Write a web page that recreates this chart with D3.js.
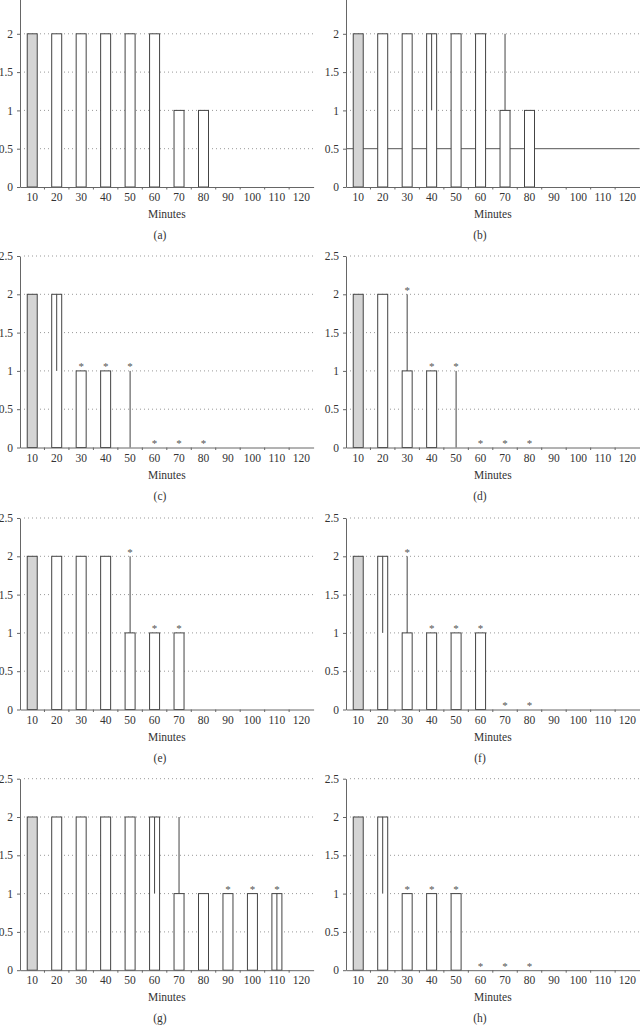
<!DOCTYPE html>
<html>
<head>
<meta charset="utf-8">
<script src="https://cdn.jsdelivr.net/npm/d3@7"></script>
<style>
  html, body { margin: 0; padding: 0; background: #fff; }
  svg { display: block; }
  svg text { font-family: "Liberation Serif", "Times New Roman", serif; fill: #333; }
</style>
</head>
<body>
<svg id="chart" width="640" height="1025"></svg>
<script>
// ---- data ----
const categories = ["10","20","30","40","50","60","70","80","90","100","110","120"];
const yTicks = [0, 0.5, 1, 1.5, 2, 2.5];
const xTitle = "Minutes";
const panelLabels = ["(a)","(b)","(c)","(d)","(e)","(f)","(g)","(h)"];

// bar values per panel
const valuesA = [2,2,2,2,2,2,1,1,0,0,0,0];
const valuesB = [2,2,2,2,2,2,1,1,0,0,0,0];
const valuesC = [2,2,1,1,0,0,0,0,0,0,0,0];
const valuesD = [2,2,1,1,0,0,0,0,0,0,0,0];
const valuesE = [2,2,2,2,1,1,1,0,0,0,0,0];
const valuesF = [2,2,1,1,1,1,0,0,0,0,0,0];
const valuesG = [2,2,2,2,2,2,1,1,1,1,1,0];
const valuesH = [2,2,1,1,1,0,0,0,0,0,0,0];

// error bar end points (null = no error bar); line runs from the bar value to this
const errA = [null,null,null,null,null,null,null,null,null,null,null,null];
const errB = [null,null,null,1,null,null,2,null,null,null,null,null];
const errC = [null,1,null,null,1,null,null,null,null,null,null,null];
const errD = [null,null,2,null,1,null,null,null,null,null,null,null];
const errE = [null,null,null,null,2,null,null,null,null,null,null,null];
const errF = [null,1,2,null,null,null,null,null,null,null,null,null];
const errG = [null,null,null,null,null,1,2,null,null,null,0,null];
const errH = [null,1,null,null,null,null,null,null,null,null,null,null];

// significance stars (1 = star)
const starsA = [0,0,0,0,0,0,0,0,0,0,0,0];
const starsB = [0,0,0,0,0,0,0,0,0,0,0,0];
const starsC = [0,0,1,1,1,1,1,1,0,0,0,0];
const starsD = [0,0,1,1,1,1,1,1,0,0,0,0];
const starsE = [0,0,0,0,1,1,1,0,0,0,0,0];
const starsF = [0,0,1,1,1,1,1,1,0,0,0,0];
const starsG = [0,0,0,0,0,0,0,0,1,1,1,0];
const starsH = [0,0,1,1,1,1,1,1,0,0,0,0];

// solid reference lines
const refB = [0.5];

const panels = [
  {label: panelLabels[0], values: valuesA, err: errA, stars: starsA, refs: []},
  {label: panelLabels[1], values: valuesB, err: errB, stars: starsB, refs: refB},
  {label: panelLabels[2], values: valuesC, err: errC, stars: starsC, refs: []},
  {label: panelLabels[3], values: valuesD, err: errD, stars: starsD, refs: []},
  {label: panelLabels[4], values: valuesE, err: errE, stars: starsE, refs: []},
  {label: panelLabels[5], values: valuesF, err: errF, stars: starsF, refs: []},
  {label: panelLabels[6], values: valuesG, err: errG, stars: starsG, refs: []},
  {label: panelLabels[7], values: valuesH, err: errH, stars: starsH, refs: []}
];

// ---- layout ----
const colX = [20, 346];
const colCenter = [160, 480];
const rowY0 = [187, 447.5, 709.5, 970.2];
const plotW = 293.6;
const plotH = 191.5;
const barW = 10;
const FONT = '"Liberation Serif", "Times New Roman", serif';
const FS = "11.5px";

const svg = d3.select("#chart");

panels.forEach((p, i) => {
  const col = i % 2, row = Math.floor(i / 2);
  const x0 = colX[col], y0 = rowY0[row];
  const x = d3.scaleBand().domain(categories).range([x0, x0 + plotW]).padding(0);
  const y = d3.scaleLinear().domain([0, 2.5]).range([y0, y0 - plotH]);
  const visTicks = yTicks.filter(t => y(t) >= 6);
  const g = svg.append("g");
  const cx = c => x(c) + x.bandwidth() / 2;

  // dotted gridlines
  g.append("g").selectAll("line")
    .data(visTicks.filter(t => t > 0 && !p.refs.includes(t)))
    .join("line")
    .attr("x1", x0 + 4).attr("x2", x0 + plotW)
    .attr("y1", d => y(d)).attr("y2", d => y(d))
    .attr("stroke", "#999").attr("stroke-width", 1)
    .attr("stroke-dasharray", "1,3");

  // solid reference lines
  g.append("g").selectAll("line")
    .data(p.refs)
    .join("line")
    .attr("x1", x0).attr("x2", x0 + plotW)
    .attr("y1", d => y(d)).attr("y2", d => y(d))
    .attr("stroke", "#555").attr("stroke-width", 1);

  // bars
  const barData = categories.map((c, k) => ({c, v: p.values[k], e: p.err[k], s: p.stars[k], k}));
  g.append("g").selectAll("rect")
    .data(barData.filter(d => d.v > 0))
    .join("rect")
    .attr("x", d => cx(d.c) - barW / 2)
    .attr("width", barW)
    .attr("y", d => y(d.v))
    .attr("height", d => y(0) - y(d.v))
    .attr("fill", d => d.k === 0 ? "#d4d4d4" : "#fff")
    .attr("stroke", "#444").attr("stroke-width", 1);

  // error bars
  g.append("g").selectAll("line")
    .data(barData.filter(d => d.e !== null))
    .join("line")
    .attr("x1", d => cx(d.c)).attr("x2", d => cx(d.c))
    .attr("y1", d => y(d.v)).attr("y2", d => y(d.e))
    .attr("stroke", "#444").attr("stroke-width", 1);

  // x axis
  const xAxis = d3.axisBottom(x).tickSizeInner(0).tickSizeOuter(0).tickPadding(6);
  const xa = g.append("g").attr("transform", `translate(0,${y0})`).call(xAxis);
  xa.attr("font-family", null);
  xa.select(".domain").attr("stroke", "#666");
  xa.selectAll("text").style("font-size", FS).style("fill", "#333")
    .style("font-family", FONT);
  // boundary ticks
  g.append("g").selectAll("line")
    .data(categories.slice(1))
    .join("line")
    .attr("x1", d => x(d)).attr("x2", d => x(d))
    .attr("y1", y0).attr("y2", y0 + 2.5)
    .attr("stroke", "#666");

  // y axis
  const yAxis = d3.axisLeft(y).tickValues(visTicks).tickFormat(d => String(d))
    .tickSizeInner(3).tickSizeOuter(0).tickPadding(4);
  const ya = g.append("g").attr("transform", `translate(${x0},0)`).call(yAxis);
  ya.attr("font-family", null);
  ya.select(".domain").attr("stroke", "#666");
  ya.selectAll(".tick line").attr("stroke", "#666");
  ya.selectAll("text").style("font-size", FS).style("fill", "#333")
    .style("font-family", FONT);

  // stars
  g.append("g").selectAll("text")
    .data(barData.filter(d => d.s))
    .join("text")
    .attr("x", d => cx(d.c))
    .attr("y", d => y(Math.max(d.v, d.e === null ? 0 : d.e)) - 0.5)
    .attr("text-anchor", "middle")
    .style("font-size", "11px")
    .style("fill", "#555")
    .style("font-family", FONT)
    .text("*");

  // axis title
  g.append("text")
    .attr("x", x0 + plotW / 2).attr("y", y0 + 31)
    .attr("text-anchor", "middle").style("font-size", FS)
    .style("font-family", FONT)
    .text(xTitle);

  // panel label
  g.append("text")
    .attr("x", colCenter[col]).attr("y", y0 + 52)
    .attr("text-anchor", "middle").style("font-size", FS)
    .style("font-family", FONT)
    .text(p.label);
});
</script>
</body>
</html>
